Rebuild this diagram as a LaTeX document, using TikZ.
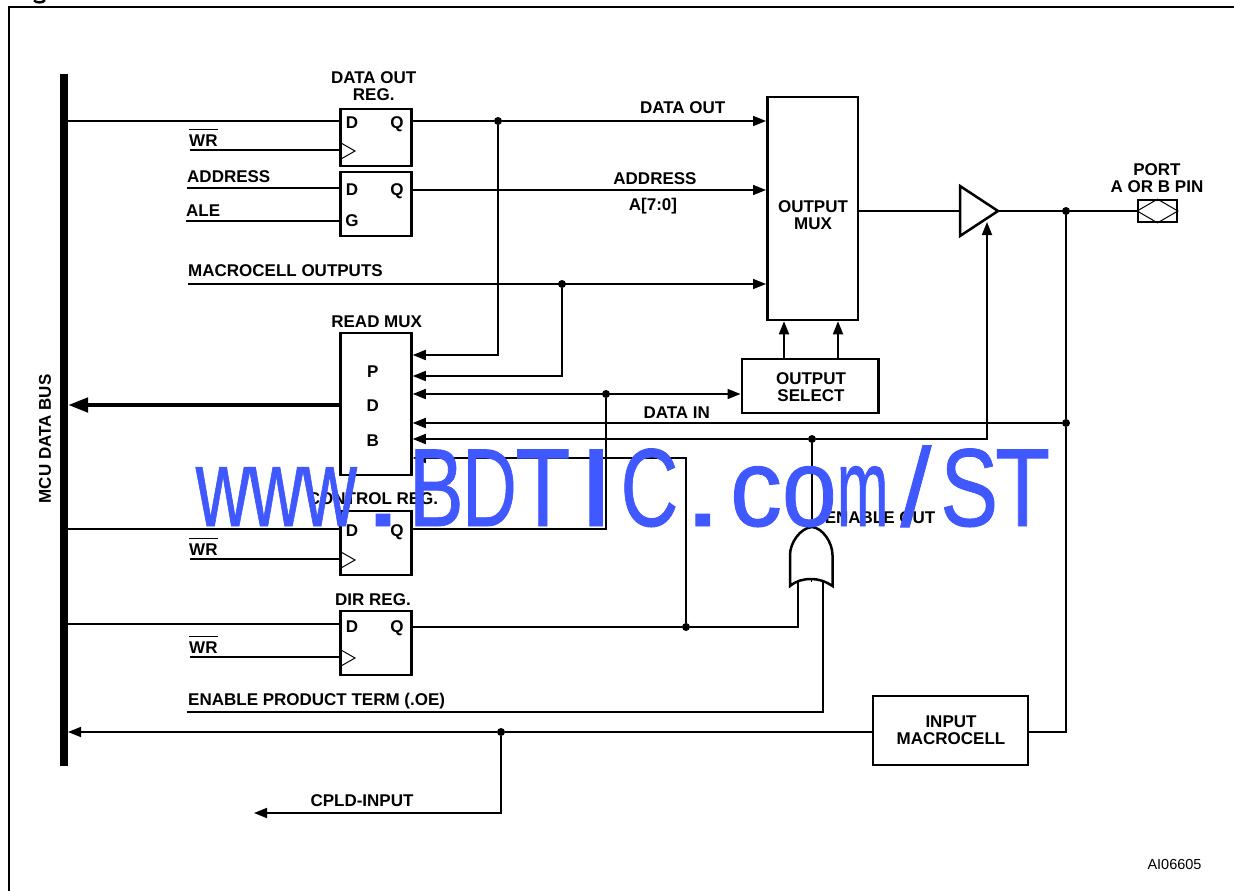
\documentclass[tikz,border=0pt]{standalone}
\usepackage{fontspec}
\setmainfont{Liberation Sans}
\usetikzlibrary{arrows.meta,calc}
\definecolor{wmblue}{RGB}{64,88,255}
\newcommand{\wc}[2]{\makebox[53.3pt][c]{\scalebox{#1}[1]{#2}}}
\newcommand{\barwr}{$\overline{\mbox{\rule{0pt}{15.5pt}WR}}$}
\tikzset{
  wire/.style={line width=1.7pt},
  arr/.style={wire,-{Triangle[length=13pt,width=10pt]}},
  darr/.style={wire,{Triangle[length=13pt,width=10pt]}-{Triangle[length=13pt,width=10pt]}},
  blk/.style={draw,line width=2.5pt,fill=white,inner sep=0pt},
  lbl/.style={inner sep=0pt,align=center,font=\fontsize{17}{17}\selectfont\bfseries},
  blbl/.style={lbl,anchor=base},
  wlbl/.style={lbl,anchor=base west},
  dot/.style={circle,fill=black,inner sep=0pt,minimum size=8pt},
}
\begin{document}
\begin{tikzpicture}[x=1pt,y=-1pt]
\useasboundingbox (0,0) rectangle (1234,891);
\fill[white] (0,0) rectangle (1234,891);
% outer frame (only top and left edges are in the picture)
\coordinate (ftl) at (9,7);
\coordinate (ftr) at (1234,7);
\coordinate (fbl) at (9,891);
\draw[line width=2.4pt] (ftr) -- (ftl) -- (fbl);
\draw[line width=2.4pt] (34,0.3) .. controls (36,3.2) and (43,3.2) .. (45,0);
% bus
\node[fill=black,inner sep=0pt,minimum width=8pt,minimum height=692pt] (bus) at (63.8,420) {};
\node[lbl,rotate=90] (buslabel) at (45,439) {MCU DATA BUS};
% blocks
\node[blk,minimum width=71pt,minimum height=57pt] (dreg) at (376,137.5) {};
\node[blk,minimum width=71pt,minimum height=64pt] (areg) at (376,204) {};
\node[blk,minimum width=90.5pt,minimum height=223pt] (omux) at (812.5,208.5) {};
\node[blk,minimum width=71pt,minimum height=142pt] (rmux) at (376,404) {};
\node[blk,minimum width=136.5pt,minimum height=54pt] (osel) at (810,386) {};
\node[blk,minimum width=71pt,minimum height=64pt] (creg) at (376,543) {};
\node[blk,minimum width=71pt,minimum height=64pt] (rreg) at (376,643) {};
\node[blk,minimum width=155pt,minimum height=69pt] (imac) at (950.5,730.5) {};
% letters in blocks
\node[blbl] (omuxt) at (813,229) {OUTPUT\\MUX};
\node[blbl] (oselt) at (811,401) {OUTPUT\\SELECT};
\node[blbl] (imact) at (951,744) {INPUT\\MACROCELL};
\foreach \n/\y/\a/\b in {d1/128.3/D/Q,a1/195/D/Q,c1/536/D/Q,r1/632.7/D/Q}{
  \node[blbl] (\n a) at (352,\y) {\a};
  \node[blbl] (\n b) at (397,\y) {\b};
}
\node[blbl] (gl) at (352,226.7) {G};
\node[blbl] (pl) at (372.7,377) {P};
\node[blbl] (dl) at (372.7,411.7) {D};
\node[blbl] (bl) at (372.7,446) {B};
% labels
\node[blbl] (t1) at (373.7,100) {DATA OUT\\REG.};
\node[wlbl] (t2) at (189,146) {\barwr};
\node[wlbl] (t3) at (187,182.7) {ADDRESS};
\node[wlbl] (t4) at (186,216.7) {ALE};
\node[wlbl] (t5) at (188,276) {MACROCELL OUTPUTS};
\node[blbl] (t6) at (376.7,327) {READ MUX};
\node[blbl] (t7) at (373,504) {CONTROL REG.};
\node[wlbl] (t8) at (189,555) {\barwr};
\node[blbl] (t9) at (373,605) {DIR REG.};
\node[wlbl] (t10) at (189,653) {\barwr};
\node[wlbl] (t11) at (188,705) {ENABLE PRODUCT TERM (.OE)};
\node[blbl] (t12) at (362,806) {CPLD-INPUT};
\node[blbl] (t13) at (682.7,113.3) {DATA OUT};
\node[blbl] (t14) at (655,184) {ADDRESS};
\node[blbl] (t15) at (653,210.7) {A[7:0]};
\node[blbl] (t16) at (676.7,418) {DATA IN};
\node[blbl] (t17) at (880,523) {ENABLE OUT};
\node[blbl] (t18) at (1157,192) {PORT\\A OR B PIN};
\node[inner sep=0pt,anchor=base,font=\fontsize{14.5}{14.5}\selectfont] (t19) at (1174.5,869) {AI06605};
% free ends and junctions
\coordinate (wr1) at (190,150);
\coordinate (addr) at (187,188);
\coordinate (ale) at (186,221);
\coordinate (mco) at (188,284);
\coordinate (wr2) at (190,559);
\coordinate (wr3) at (190,657);
\coordinate (ept) at (187,712);
\coordinate (cpld) at (254,813);
\node[dot] (j1) at (498,121) {};
\node[dot] (j2) at (562,284) {};
\node[dot] (j3) at (606,394) {};
\node[dot] (j4) at (812,439) {};
\node[dot] (j5) at (1066,423) {};
\node[dot] (j6) at (1066,211) {};
\node[dot] (j7) at (686,627) {};
\node[dot] (j8) at (501,732) {};
% OR gate
\draw[line width=2.5pt,fill=white] (790,586) -- (790,555) .. controls (790,543) and (800,528) .. (812,527) .. controls (823,528) and (832.5,543) .. (832.5,555) -- (832.5,586) .. controls (825,581) and (818,579) .. (811,579) .. controls (803,579) and (796,581) .. (790,586) -- cycle;
\coordinate (gtop) at (812,527);
\coordinate (gmid) at (811.5,579);
\coordinate (gin1) at (798,582);
\coordinate (gin2) at (823,581);
\draw[line width=1pt] (gmid) -- +(0,3);
% buffer
\node[coordinate] (bufin) at (960,211) {};
\node[coordinate] (bufout) at (998,211) {};
\draw[line width=2.5pt,fill=white] (960,186) -- (bufout) -- (960,236) -- cycle;
\coordinate (bufen) at (987,222);
% pin
\node[draw,line width=1.7pt,inner sep=0pt,minimum width=39pt,minimum height=22pt] (pin) at (1157.5,211) {};
\draw[line width=1pt] (pin.west) -- (pin.north) -- (pin.east) -- (pin.south) -- cycle;
% clock triangles
\foreach \c/\y in {dreg/151,creg/560,rreg/658}{
  \draw[line width=1pt] (341,\y-8) -- (355,\y) -- (341,\y+8);
}
% wires
\draw[wire] (bus.east |- 0,121) -- (dreg.west |- 0,121);
\draw[wire] (wr1) -- (wr1 -| dreg.west);
\draw[wire] (addr) -- (addr -| areg.west);
\draw[wire] (ale) -- (ale -| areg.west);
\draw[wire] (dreg.east |- j1) -- (j1);
\draw[arr] (j1) -- (j1 -| omux.west);
\draw[arr] (areg.east |- 0,190) -- (omux.west |- 0,190);
\draw[arr] (mco) -- (mco -| omux.west);
\draw[arr] (j1) |- (rmux.east |- 0,355);
\draw[arr] (j2) |- (rmux.east |- 0,376);
\draw[darr] (rmux.east |- j3) -- (j3 -| osel.west);
\draw[line width=4.5pt,-{Triangle[length=20pt,width=14pt]}] (rmux.west |- 0,405) -- (bus.east |- 0,405);
\draw[arr] (osel.north -| 784,0) -- (omux.south -| 784,0);
\draw[arr] (osel.north -| 838,0) -- (omux.south -| 838,0);
\draw[arr] (j5) -- (j5 -| rmux.east);
\draw[arr] (j4) -- (j4 -| rmux.east);
\draw[arr] (j4) -| (bufen);
\draw[wire] (j4) -- (gtop);
\draw[arr] (j7) |- (rmux.east |- 0,458);
\draw[wire] (bus.east |- 0,529) -- (creg.west |- 0,529);
\draw[wire] (creg.east |- 0,529) -| (j3);
\draw[wire] (wr2) -- (wr2 -| creg.west);
\draw[wire] (bus.east |- 0,624) -- (rreg.west |- 0,624);
\draw[wire] (wr3) -- (wr3 -| rreg.west);
\draw[wire] (rreg.east |- j7) -- (j7);
\draw[wire] (j7) -| (gin1);
\draw[wire] (ept) -| (gin2);
\draw[wire] (imac.west |- j8) -- (j8);
\draw[arr] (j8) -- (j8 -| bus.east);
\draw[arr] (j8) |- (cpld);
\draw[wire] (imac.east |- j8) -| (j5);
\draw[wire] (j5) -- (j6);
\draw[wire] (omux.east |- bufin) -- (bufin);
\draw[wire] (bufout) -- (pin.west);
% watermark
\node[inner sep=0pt,text=wmblue,font=\fontsize{111}{111}\selectfont\addfontfeature{FakeBold=0.8},anchor=base] (wm) at (622.8,526) {\wc{.68}{w}\wc{.68}{w}\wc{.68}{w}\wc{1.3}{.}\wc{.74}{B}\wc{.68}{D}\wc{.81}{T}\wc{1.2}{I}\wc{.72}{C}\wc{1.3}{.}\wc{.94}{c}\wc{.89}{o}\wc{.56}{m}\wc{1.0}{/}\wc{.78}{S}\wc{.81}{T}};
\end{tikzpicture}
\end{document}
